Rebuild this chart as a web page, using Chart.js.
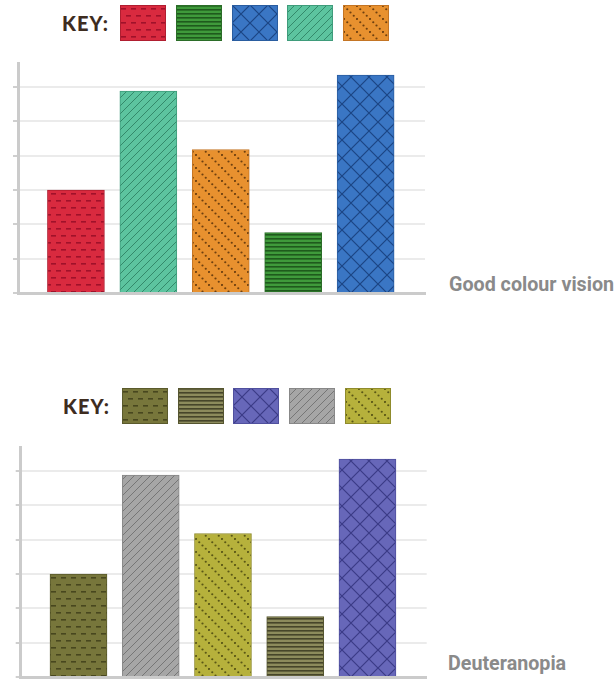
<!DOCTYPE html>
<html>
<head>
<meta charset="utf-8">
<script src="https://cdn.jsdelivr.net/npm/chart.js@4"></script>
<style>
  body { margin: 0; background: #fff; width: 615px; height: 682px; position: relative; overflow: hidden; }
  canvas { position: absolute; }
  .key { position: absolute; font: 900 20px Lato, sans-serif; letter-spacing: 1px; color: #3e2c1f; line-height: 1; }
  .caption { position: absolute; font: bold 19.7px Roboto, sans-serif; color: #8a8a8a; line-height: 1; white-space: nowrap; }
</style>
</head>
<body>
<div class="key" style="left:62px; top:13px;">KEY:</div>
<div class="key" style="left:63px; top:396px;">KEY:</div>
<canvas id="goodChart" width="440" height="250" style="left:0; top:50px;"></canvas>
<canvas id="deutChart" width="440" height="248" style="left:0; top:434px;"></canvas>
<div class="caption" style="left:449px; top:275px;">Good colour vision</div>
<div class="caption" style="left:448px; top:654px;">Deuteranopia</div>
<script>
// bar values (same data, shown for two kinds of colour vision)
const categories = ['Bar 1', 'Bar 2', 'Bar 3', 'Bar 4', 'Bar 5'];
const values = [3, 5.88, 4.18, 1.76, 6.35];
const barPatterns = ['dash', 'diag', 'dots', 'stripe', 'cross'];
const keyPatterns = ['dash', 'stripe', 'cross', 'diag', 'dots'];

// palettes per pattern: [fill, pattern ink, edge]
const goodColours = {
  dash: ['#d92a3f', '#a0122a', '#b01e30'],
  stripe: ['#3f9a3b', '#1f5a1d', '#2b6d28'],
  cross: ['#3a76c4', '#1c4584', '#2a5da0'],
  diag: ['#5cc49f', '#33896a', '#3f9c7b'],
  dots: ['#e8912f', '#6e4010', '#c47524']
};
const deutColours = {
  dash: ['#77763b', '#48471f', '#5a5a2c'],
  stripe: ['#8c8b5c', '#46452a', '#55552f'],
  cross: ['#6767b9', '#3b3b86', '#50509e'],
  diag: ['#a6a6a6', '#767676', '#888888'],
  dots: ['#b6b13c', '#5a5716', '#8f8b2c']
};

function makePattern(kind, bg, ink) {
  const c = document.createElement('canvas');
  const ctx = c.getContext('2d');
  if (kind === 'dash') {
    c.width = 10; c.height = 14;
    ctx.fillStyle = bg; ctx.fillRect(0, 0, 10, 14);
    ctx.fillStyle = ink;
    ctx.fillRect(1, 3, 5, 1.6);
    ctx.fillRect(6, 10, 5, 1.6);
    ctx.fillRect(0, 10, 1, 1.6);
  } else if (kind === 'stripe') {
    c.width = 4; c.height = 4;
    ctx.fillStyle = bg; ctx.fillRect(0, 0, 4, 4);
    ctx.fillStyle = ink; ctx.fillRect(0, 0, 4, 1.6);
  } else if (kind === 'cross') {
    c.width = 18; c.height = 18;
    ctx.fillStyle = bg; ctx.fillRect(0, 0, 18, 18);
    ctx.strokeStyle = ink; ctx.lineWidth = 1.2;
    ctx.beginPath();
    ctx.moveTo(0, 0); ctx.lineTo(18, 18);
    ctx.moveTo(18, 0); ctx.lineTo(0, 18);
    ctx.stroke();
  } else if (kind === 'diag') {
    c.width = 8; c.height = 8;
    ctx.fillStyle = bg; ctx.fillRect(0, 0, 8, 8);
    ctx.strokeStyle = ink; ctx.lineWidth = 1;
    ctx.beginPath();
    ctx.moveTo(-1, 9); ctx.lineTo(9, -1);
    ctx.moveTo(-1, 1); ctx.lineTo(1, -1);
    ctx.moveTo(7, 9); ctx.lineTo(9, 7);
    ctx.stroke();
  } else if (kind === 'dots') {
    c.width = 13; c.height = 13;
    ctx.fillStyle = bg; ctx.fillRect(0, 0, 13, 13);
    ctx.fillStyle = ink;
    for (let i = 0; i < 4; i++) {
      ctx.beginPath();
      ctx.arc(1 + i * 3.25, 1 + i * 3.25, 1.1, 0, Math.PI * 2);
      ctx.fill();
    }
  }
  return c.getContext('2d').createPattern(c, 'repeat');
}

function drawKey(palette, left, top) {
  keyPatterns.forEach((kind, i) => {
    const sw = document.createElement('canvas');
    sw.width = 46; sw.height = 36;
    sw.style.left = (left + i * 55.8) + 'px';
    sw.style.top = top + 'px';
    const ctx = sw.getContext('2d');
    ctx.fillStyle = makePattern(kind, palette[kind][0], palette[kind][1]);
    ctx.fillRect(0, 0, 46, 36);
    ctx.strokeStyle = palette[kind][2];
    ctx.lineWidth = 1;
    ctx.strokeRect(0.5, 0.5, 45, 35);
    document.body.appendChild(sw);
  });
}

function buildChart(id, palette, padding) {
  return new Chart(document.getElementById(id), {
    type: 'bar',
    data: {
      labels: categories,
      datasets: [{
        data: values.map((v, i) => ({ x: i + 1, y: v })),
        backgroundColor: barPatterns.map(k => makePattern(k, palette[k][0], palette[k][1])),
        borderColor: barPatterns.map(k => palette[k][2]),
        borderWidth: 1,
        barThickness: 57
      }]
    },
    options: {
      responsive: false,
      animation: false,
      devicePixelRatio: 1,
      layout: { padding: padding },
      plugins: { legend: { display: false }, tooltip: { enabled: false } },
      scales: {
        x: {
          type: 'linear',
          offset: false,
          min: 0.2,
          max: 5.82,
          grid: { display: false, drawTicks: false, offset: false },
          ticks: { display: false },
          border: { color: '#cbcbcb', width: 3 }
        },
        y: {
          min: 0,
          max: 6.7,
          ticks: { display: false, stepSize: 1, includeBounds: false },
          grid: { color: '#ebebeb', lineWidth: 2, tickColor: '#cfcfcf', tickLength: 5 },
          border: { color: '#cbcbcb', width: 3 }
        }
      }
    }
  });
}

drawKey(goodColours, 120, 5);
drawKey(deutColours, 121.7, 388.3);
buildChart('goodChart', goodColours, { left: 13, top: 13, right: 15, bottom: 7 });
buildChart('deutChart', deutColours, { left: 15.7, top: 13, right: 13.3, bottom: 5 });
</script>
</body>
</html>
